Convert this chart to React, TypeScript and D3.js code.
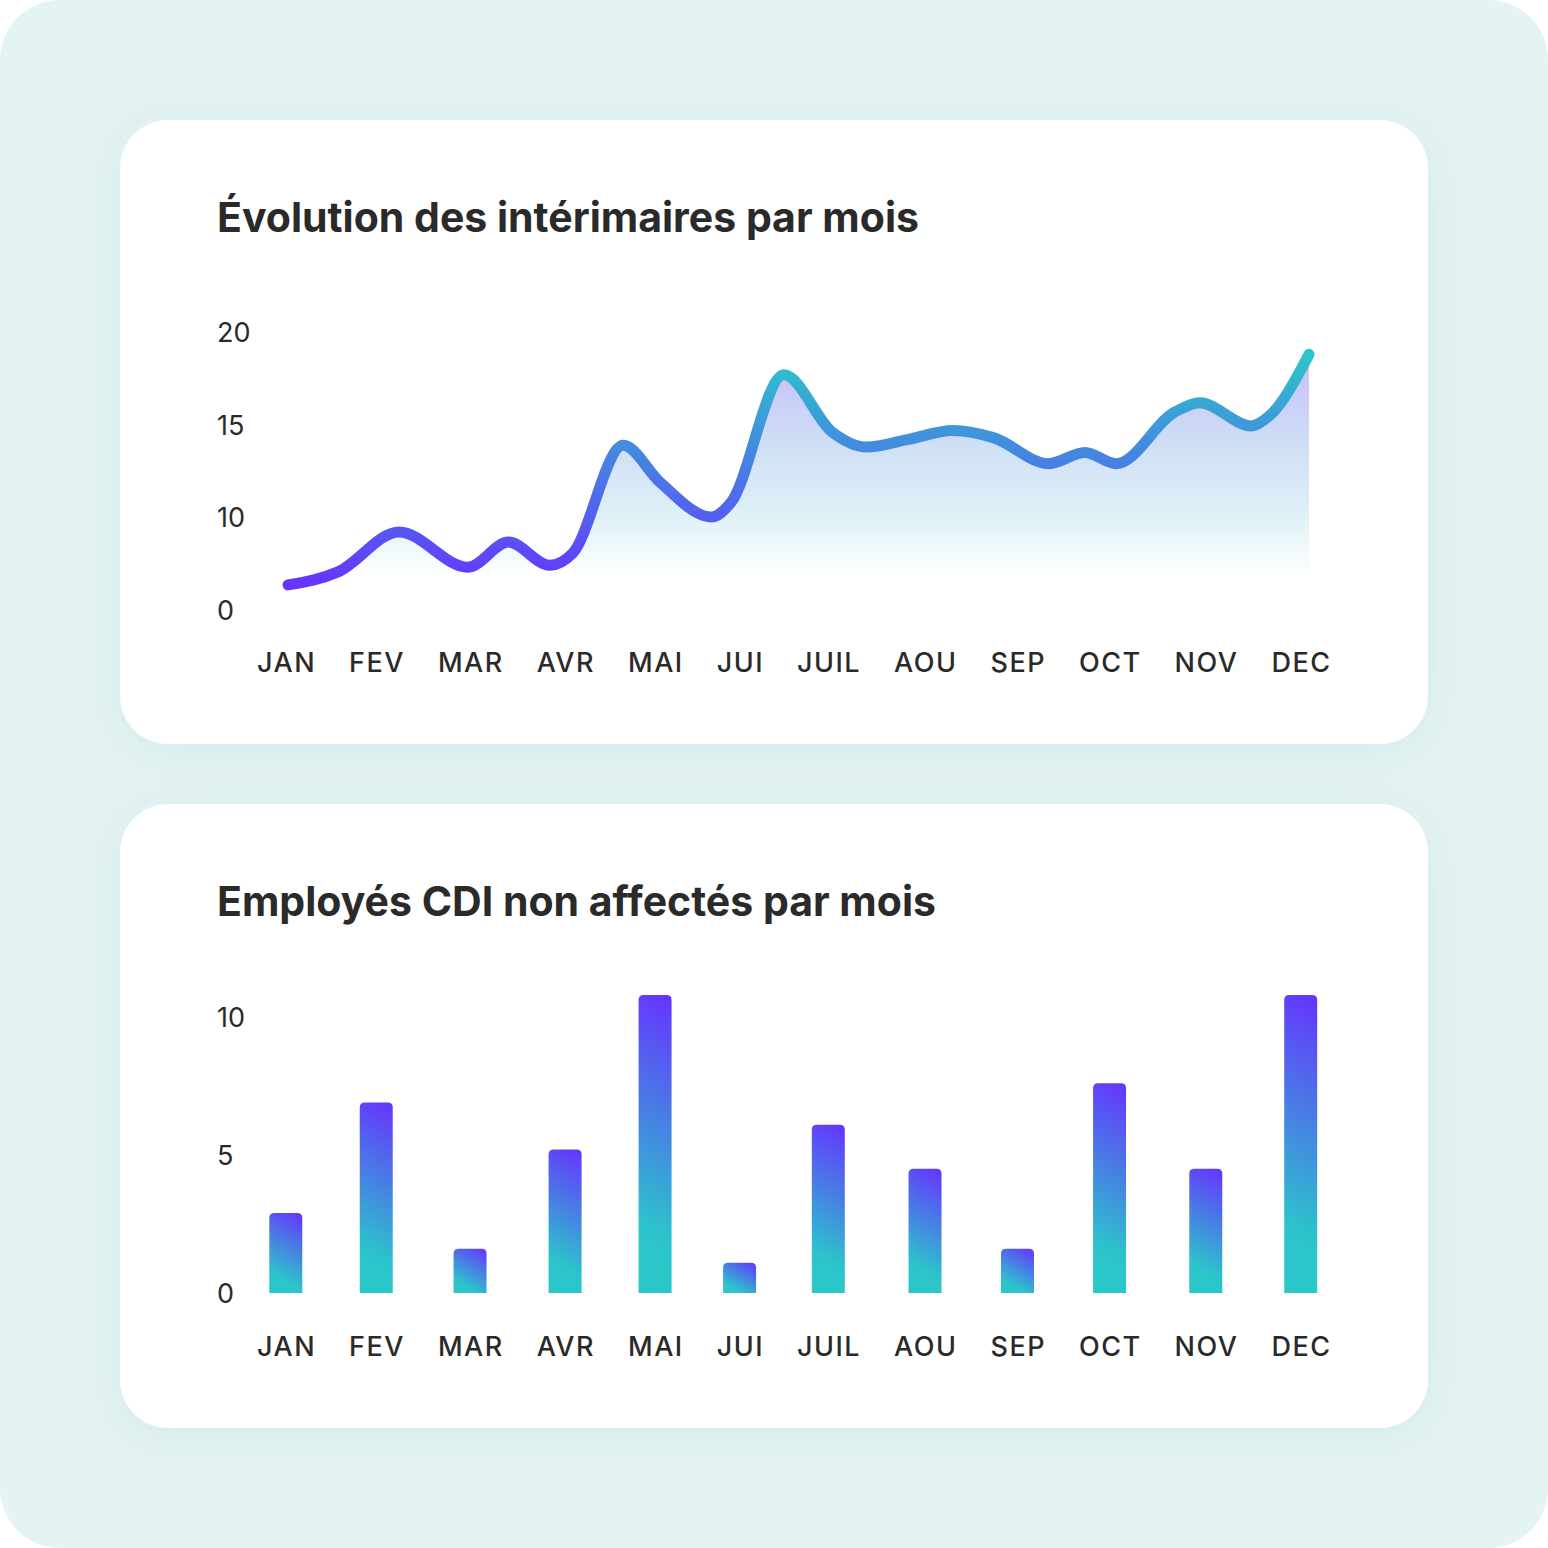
import React, { useLayoutEffect, useRef, useState } from "react";
import * as d3 from "d3";

// ---------- data ----------
const months = ["JAN", "FEV", "MAR", "AVR", "MAI", "JUI", "JUIL", "AOU", "SEP", "OCT", "NOV", "DEC"];

const lineTitle = "Évolution des intérimaires par mois";
const lineTickValues = [0, 10, 15, 20];
const lineTickLabels = ["0", "10", "15", "20"];
// sample position along the months axis (0 = JAN … 11 = DEC) and value
const linePos = [0, 0.545, 1.21, 1.96, 2.4, 2.85, 3.1, 3.65, 4.05, 4.61, 4.82, 5.4, 5.93, 6.3, 6.74, 7.24, 7.69, 8.28, 8.68, 9.02, 9.66, 9.93, 10.49, 10.69, 11.12];
const lineValues = [2.7, 4.1, 8.4, 4.6, 7.3, 4.8, 6.1, 13.9, 11.9, 10.0, 10.76, 17.7, 14.6, 13.8, 14.2, 14.7, 14.3, 12.9, 13.5, 12.9, 15.7, 16.2, 14.95, 15.5, 18.8];
const areaBaseValue = 3.5;

const barTitle = "Employés CDI non affectés par mois";
const barTickValues = [0, 5, 10];
const barTickLabels = ["0", "5", "10"];
const barValues = [2.9, 6.9, 1.6, 5.2, 10.8, 1.1, 6.1, 4.5, 1.6, 7.6, 4.5, 10.8];

// ---------- style ----------
const W = 1548;
const TEAL = "#2bc8c8";
const PURPLE = "#6633ff";
const TEXT = "#2a2a2a";
const FONT = "Inter, 'Noto Sans', sans-serif";
const LABEL_SIZE = 27;
const LABEL_SPACING = 1.5;
const LABEL_X0 = 257;
const LABEL_X1 = 1330;

function Card({ y }: { y: number }) {
  return <rect x={120} y={y} width={1308} height={624} rx={48} fill="#ffffff" filter="url(#cardShadow)" />;
}

export default function App() {
  // measure month labels so they are spread edge-to-edge with equal gaps
  const measureRefs = useRef<(SVGTextElement | null)[]>([]);
  const [layout, setLayout] = useState<{ starts: number[]; centers: number[] } | null>(null);
  useLayoutEffect(() => {
    const widths = measureRefs.current.map((t) => (t ? t.getComputedTextLength() - LABEL_SPACING : 0));
    const gap = (LABEL_X1 - LABEL_X0 - d3.sum(widths)) / (widths.length - 1);
    const starts: number[] = [];
    const centers: number[] = [];
    let cur = LABEL_X0;
    widths.forEach((w) => {
      starts.push(cur);
      centers.push(cur + w / 2);
      cur += w + gap;
    });
    setLayout({ starts, centers });
  }, []);

  const band = d3.scaleBand<string>().domain(months).range([245, 1345]).paddingInner(0.64).paddingOuter(0.32);
  const xCenter = d3
    .scaleOrdinal<string, number>()
    .domain(months)
    .range(layout ? layout.centers : months.map((m) => (band(m) as number) + band.bandwidth() / 2));

  // line chart scales
  const xLine = d3.scaleLinear().domain([0, 11]).range([288, 1298]);
  const yLine = d3.scaleLinear().domain(lineTickValues).range([610, 517, 425, 332]);
  const pts: [number, number][] = linePos.map((p, i) => [p, lineValues[i]]);
  const lineGen = d3
    .line<[number, number]>()
    .x((d) => xLine(d[0]))
    .y((d) => yLine(d[1]))
    .curve(d3.curveMonotoneX);
  const areaGen = d3
    .area<[number, number]>()
    .x((d) => xLine(d[0]))
    .y0(yLine(areaBaseValue))
    .y1((d) => yLine(d[1]))
    .curve(d3.curveMonotoneX);

  // bar chart scales
  const yBar = d3.scaleLinear().domain([0, 10]).range([1293, 1017]);
  const bw = band.bandwidth();
  const r = 5;
  const angle = (30 * Math.PI) / 180;

  const monthLabels = (y: number, measure = false) => (
    <g fontFamily={FONT} fontSize={LABEL_SIZE} fontWeight={500} fill={TEXT} letterSpacing={LABEL_SPACING} visibility={measure ? "hidden" : undefined}>
      {months.map((m, i) => (
        <text
          key={m}
          ref={measure ? (el) => { measureRefs.current[i] = el; } : undefined}
          x={layout ? layout.starts[i] : xCenter(m)}
          textAnchor={layout ? "start" : "middle"}
          y={y}
        >
          {m}
        </text>
      ))}
    </g>
  );

  return (
    <svg
      width={W}
      height={W}
      viewBox={`0 0 ${W} ${W}`}
      style={{ position: "absolute", left: 0, top: 0, display: "block" }}
    >
      <defs>
        <filter id="cardShadow" x="-10%" y="-20%" width="120%" height="140%">
          <feDropShadow dx="0" dy="6" stdDeviation="22" floodColor="#0b5c5c" floodOpacity="0.07" />
        </filter>
        <linearGradient id="lineGrad" gradientUnits="userSpaceOnUse" x1={0} x2={0} y1={yLine(19)} y2={yLine(2.5)}>
          <stop offset="0" stopColor={TEAL} />
          <stop offset="1" stopColor={PURPLE} />
        </linearGradient>
        <linearGradient id="areaGrad" gradientUnits="userSpaceOnUse" x1={0} x2={0} y1={yLine(19)} y2={yLine(areaBaseValue)}>
          <stop offset="0" stopColor="rgb(198,188,250)" />
          <stop offset="0.4" stopColor="rgb(206,222,245)" />
          <stop offset="0.72" stopColor="rgb(222,241,247)" />
          <stop offset="1" stopColor="rgb(255,255,255)" />
        </linearGradient>
        {months.map((m, i) => {
          const x0 = xCenter(m) - bw / 2;
          const yt = yBar(barValues[i]);
          const yb = yBar(0);
          const h = yb - yt;
          const cx = x0 + bw / 2;
          const cy = (yt + yb) / 2;
          const dx = Math.sin(angle);
          const dy = -Math.cos(angle);
          const half = (bw / 2) * Math.abs(dx) + (h / 2) * Math.abs(dy);
          return (
            <linearGradient
              key={m}
              id={`barGrad${i}`}
              gradientUnits="userSpaceOnUse"
              x1={cx - dx * half}
              y1={cy - dy * half}
              x2={cx + dx * half}
              y2={cy + dy * half}
            >
              <stop offset="0" stopColor="#29c8c8" />
              <stop offset="0.22" stopColor="#2cc4cb" />
              <stop offset="1" stopColor={PURPLE} />
            </linearGradient>
          );
        })}
      </defs>

      <rect x={0} y={0} width={W} height={W} rx={60} fill="#e4f3f3" />
      {monthLabels(-100, true)}

      {/* ---------- line chart card ---------- */}
      <Card y={120} />
      <text x={217} y={232} fontFamily={FONT} fontWeight={700} fontSize={41} fill={TEXT}>
        {lineTitle}
      </text>
      <g fontFamily={FONT} fontSize={27} fill={TEXT}>
        {lineTickValues.map((v, i) => (
          <text key={v} x={217} y={yLine(v)} dy="0.36em">
            {lineTickLabels[i]}
          </text>
        ))}
      </g>
      <path d={areaGen(pts) || ""} fill="url(#areaGrad)" />
      <path
        d={lineGen(pts) || ""}
        fill="none"
        stroke="url(#lineGrad)"
        strokeWidth={11}
        strokeLinecap="round"
        strokeLinejoin="round"
      />
      {monthLabels(672)}

      {/* ---------- bar chart card ---------- */}
      <Card y={804} />
      <text x={217} y={916} fontFamily={FONT} fontWeight={700} fontSize={41} fill={TEXT}>
        {barTitle}
      </text>
      <g fontFamily={FONT} fontSize={27} fill={TEXT}>
        {barTickValues.map((v, i) => (
          <text key={v} x={217} y={yBar(v)} dy="0.36em">
            {barTickLabels[i]}
          </text>
        ))}
      </g>
      {months.map((m, i) => {
        const x0 = xCenter(m) - bw / 2;
        const yt = yBar(barValues[i]);
        const yb = yBar(0);
        const p = d3.path();
        p.moveTo(x0, yb);
        p.lineTo(x0, yt + r);
        p.quadraticCurveTo(x0, yt, x0 + r, yt);
        p.lineTo(x0 + bw - r, yt);
        p.quadraticCurveTo(x0 + bw, yt, x0 + bw, yt + r);
        p.lineTo(x0 + bw, yb);
        p.closePath();
        return <path key={m} d={p.toString()} fill={`url(#barGrad${i})`} />;
      })}
      {monthLabels(1356)}
    </svg>
  );
}
